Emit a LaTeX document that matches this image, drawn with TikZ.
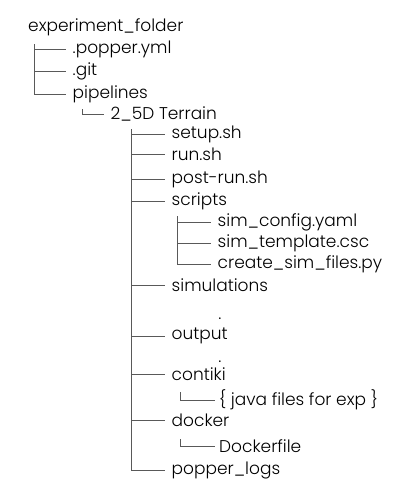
\documentclass[tikz,border=0pt]{standalone}
\usepackage{fontspec}
\setmainfont{Poppins Light}

\tikzset{
  dirlabel/.style={anchor=mid west, inner sep=0pt, inner xsep=6.5pt, font=\fontsize{17}{20}\selectfont},
  treeline/.style={draw=black!65, line width=0.8pt},
}

\begin{document}
\begin{tikzpicture}[x=1pt,y=-1pt]
	\useasboundingbox (0,0) rectangle (418,501);
	%--- raiz
	\node[dirlabel, inner xsep=0pt] (root) at (28,29) {experiment\_folder};
	\node[dirlabel] (popper) at (66,50.5) {.popper.yml};
	\node[dirlabel] (git) at (66,72.5) {.git};
	\node[dirlabel] (pipelines) at (66,95.5) {pipelines};
	\coordinate (rootstem) at (34,44);
	\foreach \n in {popper,git,pipelines}
		\draw[treeline] (rootstem) |- (\n.west);
	
	%--- pipelines
	\node[dirlabel] (terrain) at (104,117) {2\_5D Terrain};
	\coordinate (pipestem) at (82,109);
	\draw[treeline] (pipestem) |- (terrain.west);
	
	%--- 2_5D Terrain
	\node[dirlabel] (setup) at (165,136) {setup.sh};
	\node[dirlabel] (run) at (165,158) {run.sh};
	\node[dirlabel] (postrun) at (165,181) {post-run.sh};
	\node[dirlabel] (scripts) at (165,203) {scripts};
	\node[dirlabel] (simulations) at (165,289) {simulations};
	\node[dirlabel] (output) at (165,337) {output};
	\node[dirlabel] (contiki) at (165,378) {contiki};
	\node[dirlabel] (docker) at (165,424) {docker};
	\node[dirlabel] (logs) at (165,472) {popper\_logs};
	\coordinate (terrainstem) at (131,129);
	\foreach \n in {setup,run,postrun,scripts,simulations,output,contiki,docker,logs}
		\draw[treeline] (terrainstem) |- (\n.west);
	
	%--- scripts
	\node[dirlabel] (simconfig) at (211,224) {sim\_config.yaml};
	\node[dirlabel] (simtemplate) at (211,245) {sim\_template.csc};
	\node[dirlabel] (createsim) at (211,266) {create\_sim\_files.py};
	\coordinate (scriptstem) at (177,216);
	\foreach \n in {simconfig,simtemplate,createsim}
		\draw[treeline] (scriptstem) |- (\n.west);
	
	%--- pontos
	\node[dirlabel, anchor=base, inner xsep=0pt] (simdots) at (220,319) {.};
	\node[dirlabel, anchor=base, inner xsep=0pt] (outdots) at (220,362) {.};
	
	%--- contiki e docker
	\node[dirlabel, inner xsep=4pt] (javafiles) at (215,403) {\{ java files for exp \}};
	\coordinate (contikistem) at (180,392);
	\draw[treeline] (contikistem) |- (javafiles.west);
	\node[dirlabel, inner xsep=4pt] (dockerfile) at (215,450) {Dockerfile};
	\coordinate (dockerstem) at (180,439);
	\draw[treeline] (dockerstem) |- (dockerfile.west);
\end{tikzpicture}
\end{document}
